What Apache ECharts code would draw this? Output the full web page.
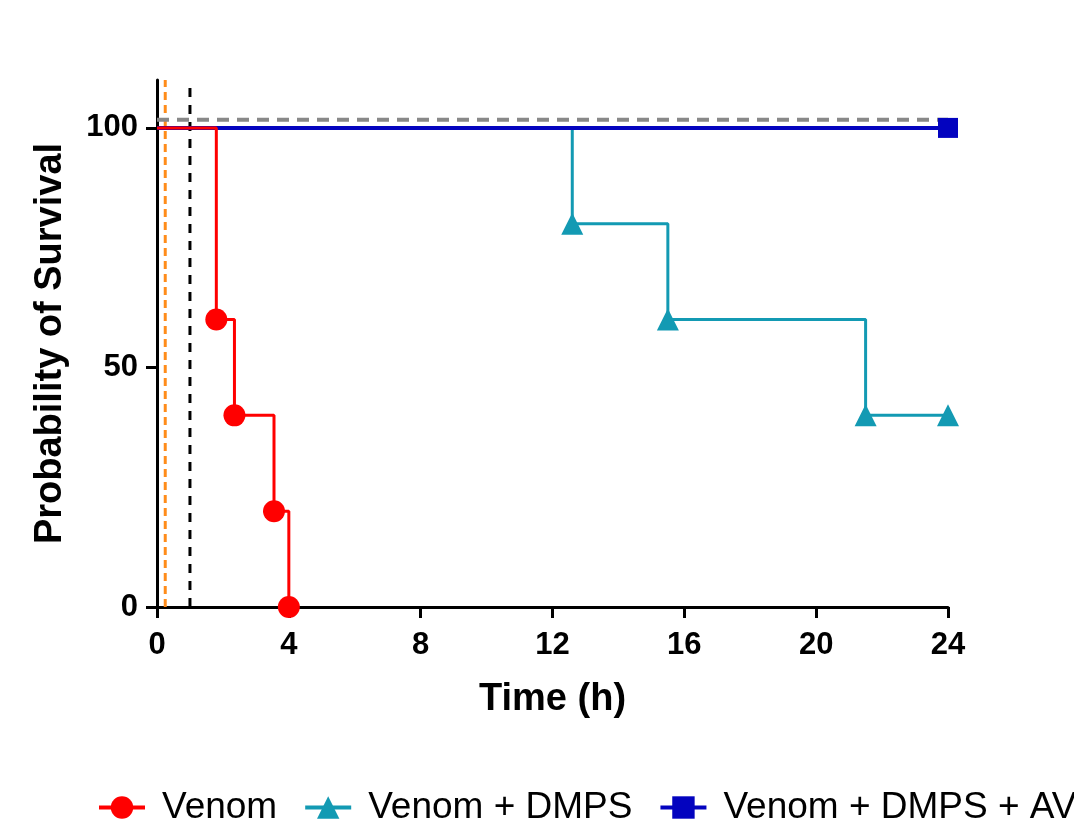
<!DOCTYPE html>
<html>
<head>
<meta charset="utf-8">
<script src="https://cdn.jsdelivr.net/npm/echarts@6/dist/echarts.min.js"></script>
<style>
  html, body { margin: 0; padding: 0; background: #fff; }
  #chart { width: 1074px; height: 821px; }
</style>
</head>
<body>
<div id="chart"></div>
<script>
// survival data (time in hours, survival in %)
const venomTimes = [0, 1.8, 2.35, 3.55, 4]
const venomSurv = [100, 60, 40, 20, 0]
const dmpsTimes = [0, 12.6, 15.5, 21.5, 24]
const dmpsSurv = [100, 80, 60, 40, 40]
const avTimes = [0, 24]
const avSurv = [100, 100]

const seriesNames = ['Venom', 'Venom + DMPS', 'Venom + DMPS + AV']
const xTicks = [0, 4, 8, 12, 16, 20, 24]
const yTicks = [0, 50, 100]

// reference dashed lines
const orangeTime = 0.25
const blackTime = 1
const greyLevel = 101.7

const FONT = '"Liberation Sans", Arial, sans-serif'

function pts(times, vals) {
  // no marker on the starting point, markers on every drop / end
  return times.map((t, i) => ({ value: [t, vals[i]], symbol: i === 0 ? 'none' : undefined }))
}

const chart = echarts.init(document.getElementById('chart'))

chart.setOption({
  animation: false,
  grid: { left: 157, right: 126, top: 80, bottom: 214, containLabel: false },
  legend: {
    data: seriesNames,
    left: 92, top: 784, width: 1400,
    itemWidth: 46, itemHeight: 28, itemGap: 26,
    lineStyle: { width: 4 },
    textStyle: { fontFamily: FONT, fontSize: 37, color: '#000', padding: [0, 0, 0, 12] }
  },
  xAxis: {
    type: 'value', min: 0, max: 24, interval: 4,
    name: 'Time (h)', nameLocation: 'middle', nameGap: 74,
    nameTextStyle: { fontFamily: FONT, fontSize: 38, fontWeight: 'bold', color: '#000' },
    axisLine: { lineStyle: { color: '#000', width: 3 } },
    axisTick: { length: 11, lineStyle: { color: '#000', width: 3 }, customValues: xTicks },
    axisLabel: { fontFamily: FONT, fontSize: 31, fontWeight: 'bold', color: '#000', margin: 23, customValues: xTicks },
    splitLine: { show: false }
  },
  yAxis: {
    type: 'value', min: 0, max: 110,
    name: 'Probability of Survival', nameLocation: 'middle', nameGap: 87,
    nameTextStyle: { fontFamily: FONT, fontSize: 38, fontWeight: 'bold', color: '#000' },
    axisLine: { show: true, lineStyle: { color: '#000', width: 3 } },
    axisTick: { show: true, length: 11, lineStyle: { color: '#000', width: 3 }, customValues: yTicks },
    axisLabel: { fontFamily: FONT, fontSize: 31, fontWeight: 'bold', color: '#000', margin: 19, customValues: yTicks },
    splitLine: { show: false }
  },
  series: [
    {
      name: 'refOrange', type: 'line', symbol: 'none', silent: true, z: 1,
      data: [[orangeTime, 0], [orangeTime, 110]],
      lineStyle: { color: '#FF8C1A', width: 3, type: [8, 5] }
    },
    {
      name: 'refBlack', type: 'line', symbol: 'none', silent: true, z: 1,
      data: [[blackTime, 0], [blackTime, 110]],
      lineStyle: { color: '#000', width: 3, type: [9, 8] }
    },
    {
      name: 'refGrey', type: 'line', symbol: 'none', silent: true, z: 1,
      data: [[0, greyLevel], [24, greyLevel]],
      lineStyle: { color: '#888', width: 4, type: [12, 8] }
    },
    {
      name: seriesNames[1], type: 'line', step: 'end', z: 2,
      data: pts(dmpsTimes, dmpsSurv),
      symbol: 'triangle', symbolSize: 22,
      color: '#139AB3',
      lineStyle: { color: '#139AB3', width: 3 },
      itemStyle: { color: '#139AB3' }
    },
    {
      name: seriesNames[2], type: 'line', step: 'end', z: 3,
      data: pts(avTimes, avSurv),
      symbol: 'rect', symbolSize: 20,
      color: '#0303BF',
      lineStyle: { color: '#0303BF', width: 4 },
      itemStyle: { color: '#0303BF' }
    },
    {
      name: seriesNames[0], type: 'line', step: 'end', z: 4,
      data: pts(venomTimes, venomSurv),
      symbol: 'circle', symbolSize: 22,
      color: '#FF0000',
      lineStyle: { color: '#FF0000', width: 3 },
      itemStyle: { color: '#FF0000' }
    }
  ]
})
</script>
</body>
</html>
